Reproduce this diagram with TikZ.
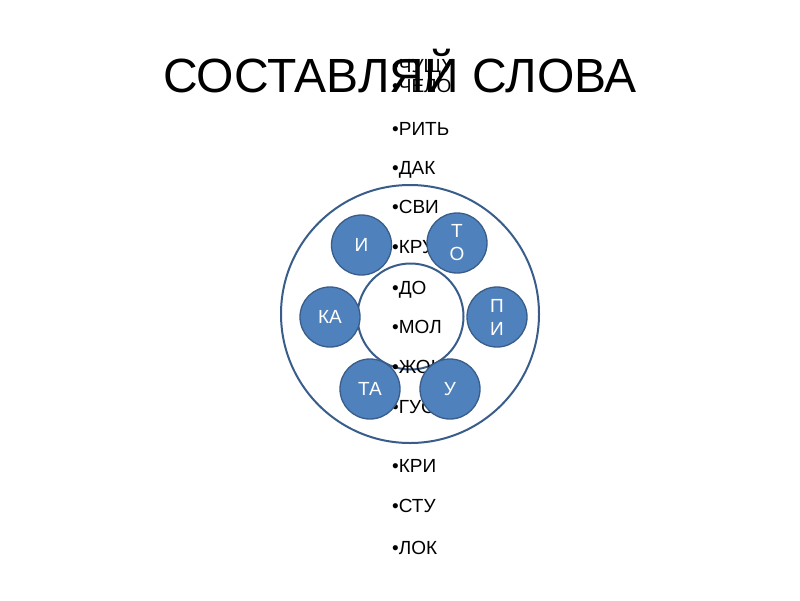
\documentclass[tikz,border=0pt]{standalone}
\usepackage{fontspec}
\setmainfont{Liberation Sans}
\definecolor{fillb}{HTML}{4F81BD}
\definecolor{lineb}{HTML}{385D8A}
\begin{document}
\begin{tikzpicture}[x=1pt,y=-1pt,
  ring/.style={circle,draw=lineb,line width=2pt,inner sep=0pt,outer sep=0pt},
  bub/.style={circle,draw=lineb,line width=1.3pt,fill=fillb,minimum size=60pt,inner sep=0pt,text=white,align=center,font=\fontsize{19}{23}\selectfont},
  item/.style={anchor=base west,inner sep=0pt,font=\fontsize{19}{19}\selectfont},
  titlestyle/.style={anchor=base,inner sep=0pt,font=\fontsize{48}{48}\selectfont}]
\useasboundingbox[fill=white] (0,0) rectangle (800,600);
\node[ring,minimum size=258pt] (outer) at (410,314) {};
\node[ring,minimum size=106pt] (inner) at (410.5,316.5) {};
\node[item] (w1) at (392,72.5) {•ЧУЩУ};
\node[item] (w2) at (392,92) {•ЧЕЛО};
\node[item] (w3) at (392,135.5) {•РИТЬ};
\node[item] (w4) at (392,174) {•ДАК};
\node[item] (w5) at (392,213) {•СВИ};
\node[item] (w6) at (392,253.5) {•КРУ};
\node[item] (w7) at (392,294) {•ДО};
\node[item] (w8) at (392,333) {•МОЛ};
\node[item] (w9) at (392,373) {•ЖОК};
\node[item] (w10) at (392,413) {•ГУС};
\node[item] (w11) at (392,472) {•КРИ};
\node[item] (w12) at (392,512.5) {•СТУ};
\node[item] (w13) at (392,554.5) {•ЛОК};
\node[bub] (b1) at (361.5,245) {И};
\node[bub] (b2) at (457,243) {Т\\О};
\node[bub] (b3) at (330,317) {КА};
\node[bub] (b4) at (497,317) {П\\И};
\node[bub] (b5) at (370,389) {ТА};
\node[bub] (b6) at (450,389) {У};
\node[titlestyle] (title) at (400,92.5) {СОСТАВЛЯЙ СЛОВА};
\end{tikzpicture}
\end{document}
